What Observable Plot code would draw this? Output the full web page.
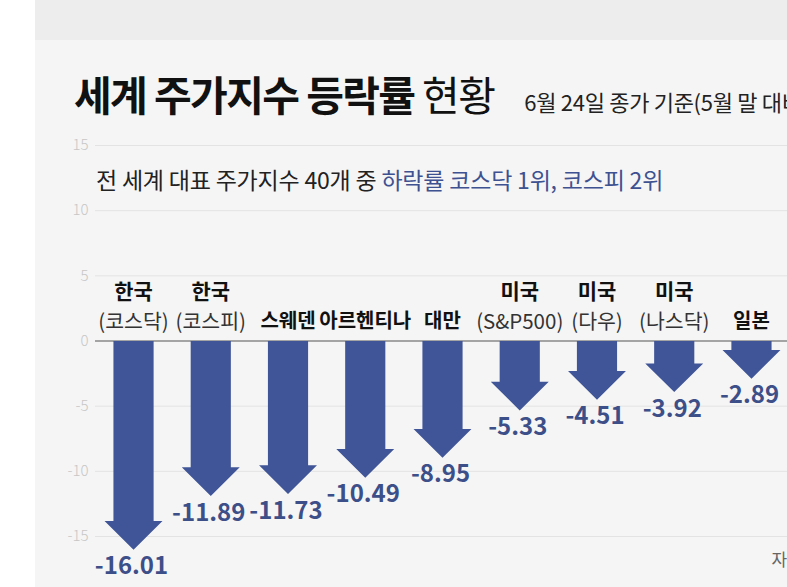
<!DOCTYPE html>
<html>
<head>
<meta charset="utf-8">
<script src="https://cdn.jsdelivr.net/npm/d3@7"></script>
<script src="https://cdn.jsdelivr.net/npm/@observablehq/plot@0.6"></script>
<style>
  html, body { margin: 0; padding: 0; overflow: hidden; background: #fff; }
  #page { position: relative; width: 787px; height: 587px; overflow: hidden; background: #fff;
          font-family: "Noto Sans CJK KR", "Noto Sans", sans-serif; }
  #topband { position: absolute; left: 35px; top: 0; right: 0; height: 40px; background: #ededed; }
  #panel { position: absolute; left: 35px; top: 40px; right: 0; bottom: 0; background: #f5f5f5; }
  #title { position: absolute; left: 74px; top: 69px; white-space: nowrap; color: #111;
           font-size: 41px; line-height: 48px; letter-spacing: -1.6px; }
  #title b { font-weight: 700; }
  #title span.reg { font-weight: 400; }
  #title span.note { font-size: 22px; font-weight: 400; letter-spacing: -0.3px; margin-left: 30px; color: #222; }
  #subtitle { position: absolute; left: 96px; top: 164px; white-space: nowrap; font-size: 23px; line-height: 30px;
              letter-spacing: -0.2px; color: #222; }
  #subtitle span { color: #3e5190; }
  #chart { position: absolute; left: 0; top: 0; }
</style>
</head>
<body>
<div id="page">
  <div id="topband"></div>
  <div id="panel"></div>
  <div id="chart"></div>
  <div id="title"><b>세계 주가지수 등락률</b> <span class="reg">현황</span><span class="note">6월 24일 종가 기준(5월 말 대비, %)</span></div>
  <div id="subtitle">전 세계 대표 주가지수 40개 중 <span>하락률 코스닥 1위, 코스피 2위</span></div>
</div>
<script>
// ---- data ----
const names    = ["한국", "한국", "스웨덴", "아르헨티나", "대만", "미국", "미국", "미국", "일본"];
const subNames = ["(코스닥)", "(코스피)", "", "", "", "(S&P500)", "(다우)", "(나스닥)", ""];
const values   = [-16.01, -11.89, -11.73, -10.49, -8.95, -5.33, -4.51, -3.92, -2.89];
const yTicks   = [15, 10, 5, 0, -5, -10, -15];
const sourceText = "자료: 한국거래소";

const arrowColor = "#3f5597";
const labelColor = "#3d4f88";

// rows
const rows = values.map((v, i) => ({i, name: names[i], sub: subNames[i], value: v}));

// arrow polygons (shape constants: shaft / head widths in band units, head height in value units)
const SW = 0.26, HW = 0.375, HH = 2.2;
const arrowPts = rows.flatMap(d => {
  const s = Math.min(0, d.value + HH);
  return [
    {id: d.i, x: d.i - SW, y: 0},
    {id: d.i, x: d.i + SW, y: 0},
    {id: d.i, x: d.i + SW, y: s},
    {id: d.i, x: d.i + HW, y: s},
    {id: d.i, x: d.i,      y: d.value},
    {id: d.i, x: d.i - HW, y: s},
    {id: d.i, x: d.i - SW, y: s},
    {id: d.i, x: d.i - SW, y: 0}
  ];
});

const twoLine = rows.filter(d => d.sub !== "");
const oneLine = rows.filter(d => d.sub === "");

const chart = Plot.plot({
  width: 787,
  height: 587,
  marginLeft: 95,
  marginRight: 0,
  marginTop: 145,
  marginBottom: 51,
  style: {background: "transparent", fontFamily: "'Noto Sans CJK KR', sans-serif", overflow: "visible"},
  x: {type: "linear", domain: [-0.5, 8.5], range: [94.4, 789.6], axis: null},
  y: {domain: [-15, 15], axis: null},
  marks: [
    Plot.ruleY(yTicks.filter(t => t !== 0), {stroke: "#e3e3e3", strokeWidth: 1}),
    Plot.ruleY([0], {stroke: "#a4a4a4", strokeWidth: 2}),
    Plot.axisY({ticks: yTicks, tickSize: 0, tickPadding: 7, fontSize: 15, fill: "#c6c6c6",
                tickFormat: d => String(d), label: null, fontWeight: 300}),
    Plot.line(arrowPts, {x: "x", y: "y", z: "id", fill: arrowColor, stroke: "none", curve: "linear"}),
    Plot.text(rows, {x: "i", y: "value", text: d => d.value.toFixed(2), dy: 17, dx: -2,
                     fontSize: 24, fontWeight: 700, fill: labelColor, lineAnchor: "middle"}),
    // category labels
    Plot.text(twoLine, {x: "i", y: 0, text: "name", dy: -49, fontSize: 21, fontWeight: 700, fill: "#111",
                        lineAnchor: "middle", letterSpacing: -0.5}),
    Plot.text(twoLine, {x: "i", y: 0, text: "sub", dy: -19, fontSize: 20.5, fontWeight: 400, fill: "#333",
                        lineAnchor: "middle", letterSpacing: -0.5}),
    Plot.text(oneLine, {x: "i", y: 0, text: "name", dy: -19, fontSize: 20, fontWeight: 700, fill: "#111",
                        lineAnchor: "middle", letterSpacing: -2}),
    // source
    Plot.text([sourceText], {frameAnchor: "bottom-right", text: d => d, dx: -16, dy: 29,
                             fontSize: 17, fill: "#666", textAnchor: "start"})
  ]
});
document.getElementById("chart").appendChild(chart);
</script>
</body>
</html>
